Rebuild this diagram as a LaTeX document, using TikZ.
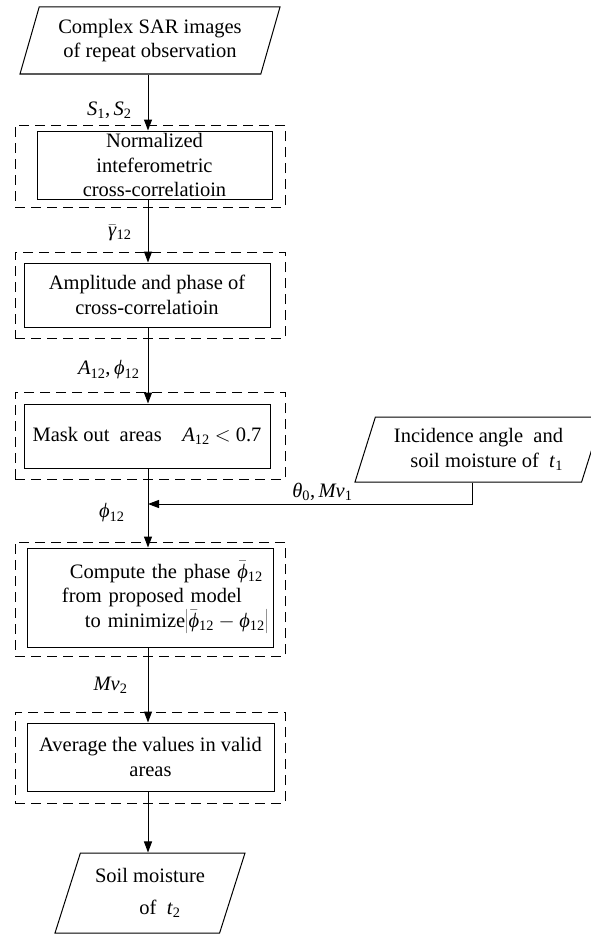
\documentclass[tikz,border=0pt]{standalone}
\usepackage{fontspec}
\setmainfont{Liberation Serif}
\usetikzlibrary{arrows.meta,shapes.geometric}
\newcommand{\qsub}[2]{\textit{#1}\textsubscript{#2}}
\newcommand{\qbar}[2]{$\bar{\mbox{\textit{#1}}}$\textsubscript{#2}}

\begin{document}
\begin{tikzpicture}[
  x=1pt,y=-1pt,
  line width=1pt,
  >={Triangle[length=11pt,width=8pt]},
  every node/.style={font=\fontsize{20.5}{24.5}\selectfont},
  io/.style={trapezium,draw,trapezium stretches body,inner sep=0pt,align=center},
  proc/.style={rectangle,draw,inner sep=0pt,align=center},
  grp/.style={rectangle,draw,dash pattern=on 10pt off 6pt,inner sep=0pt,minimum width=270pt},
  lbl/.style={inner sep=0pt,anchor=east},
]
  \useasboundingbox (0,0) rectangle (590,934);

  % dashed frames
  \node[grp,minimum height=82pt] (g1) at (150,166) {};
  \node[grp,minimum height=86pt] (g2) at (150,295) {};
  \node[grp,minimum height=87pt] (g3) at (150,435.5) {};
  \node[grp,minimum height=114pt] (g4) at (150,599) {};
  \node[grp,minimum height=91pt] (g5) at (150,757.5) {};

  % inputs and output
  \node[io,trapezium left angle=66,trapezium right angle=114,minimum width=260pt,minimum height=67pt] (sar) at (150,40.5) {Complex SAR images\\of repeat observation};
  \node[io,trapezium left angle=64,trapezium right angle=116,minimum width=247pt,minimum height=65pt,align=right] (inc) at (478.5,449.5) {Incidence angle\ \ and\\soil moisture of\ \ \qsub{t}{1}};
  \node[io,trapezium left angle=63,trapezium right angle=117,minimum width=190pt,minimum height=80pt] (sm2) at (150,893) {Soil moisture\\[8pt]\hspace*{20pt}of\ \ \qsub{t}{2}};

  % processing steps
  \node[proc,minimum width=235pt,minimum height=68pt] (nrm) at (154.5,165) {Normalized\\inteferometric\\cross-correlatioin};
  \node[proc,minimum width=246pt,minimum height=64pt] (amp) at (147,295) {Amplitude and phase of\\cross-correlatioin};
  \node[proc,minimum width=246pt,minimum height=64pt] (msk) at (147,436) {Mask out\ \ areas\quad \qsub{A}{12} $<$ 0.7};
  \node[proc,minimum width=246pt,minimum height=99pt,text width=246pt,align=left] (cmp) at (150,597.5) {\hspace*{43pt}Compute the phase \qbar{ϕ}{12}\\
    \hspace*{35pt}from proposed model\\
    \hspace*{58pt}\mbox{to minimize$\left|\mbox{\qbar{ϕ}{12}} - \mbox{\qsub{ϕ}{12}}\right|$}};
  \node[proc,minimum width=247pt,minimum height=68pt] (avg) at (150.5,757) {Average the values in valid\\areas};

  \coordinate (col) at (148,0);
  \coordinate (mrg) at (148,504);
  \coordinate (drp) at (472,504);

  \draw[->] (sar.south -| col) -- (nrm.north -| col);
  \draw[->] (nrm.south -| col) -- (amp.north -| col);
  \draw[->] (amp.south -| col) -- (msk.north -| col);
  \draw[->] (msk.south -| col) -- (cmp.north -| col);
  \draw[->] (inc.south -| drp) -- (drp) -- (mrg);
  \draw[->] (cmp.south -| col) -- (avg.north -| col);
  \draw[->] (avg.south -| col) -- (sm2.north -| col);

  % flow labels
  \node[lbl] (ls) at (132,110) {\qsub{S}{1},\,\qsub{S}{2}};
  \node[lbl] (lg) at (132,233) {\qbar{γ}{12}};
  \node[lbl] (la) at (140,370) {\qsub{A}{12},\,\qsub{ϕ}{12}};
  \node[lbl] (lp) at (125,513) {\qsub{ϕ}{12}};
  \node[lbl] (lt) at (353,492) {\qsub{θ}{0},\,\qsub{Mv}{1}};
  \node[lbl] (lm) at (128,685) {\qsub{Mv}{2}};
\end{tikzpicture}
\end{document}
